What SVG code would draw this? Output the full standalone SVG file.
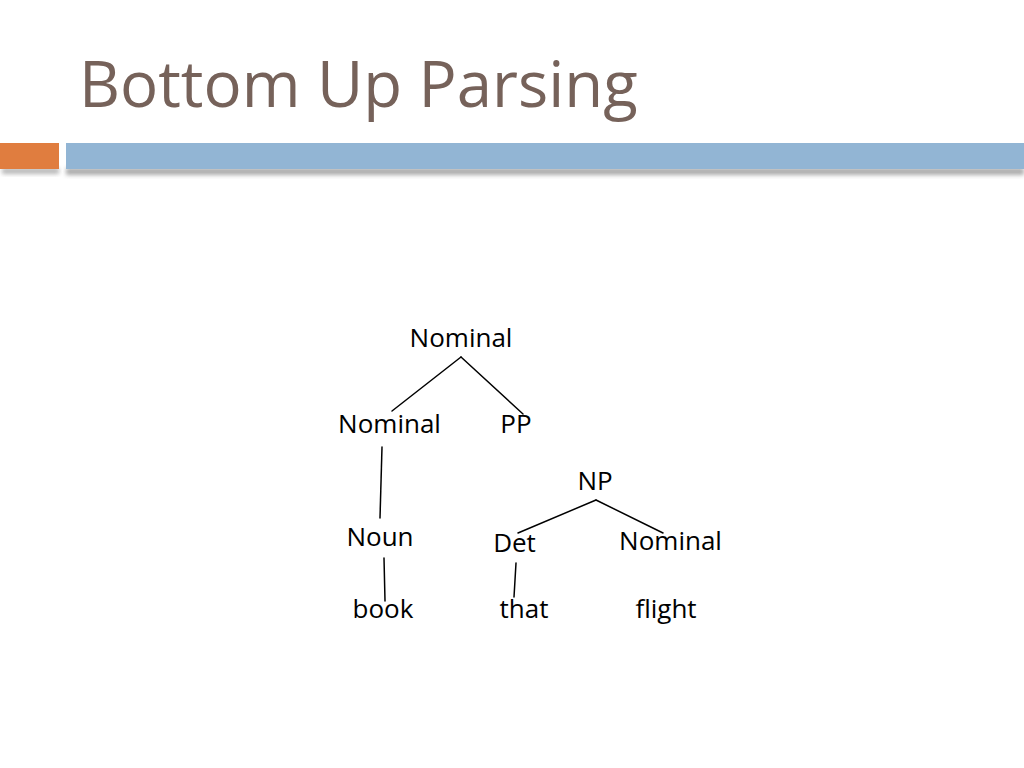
<svg xmlns="http://www.w3.org/2000/svg" width="1024" height="768" viewBox="0 0 1024 768">
<defs>
<style>
.t{font-family:"Open Sans","Noto Sans","DejaVu Sans",sans-serif;font-size:26px;fill:#000;}
.title{font-family:"Open Sans","Noto Sans","DejaVu Sans",sans-serif;font-size:63.5px;fill:#76625a;}
.e{stroke:#000;stroke-width:1.5;fill:none;stroke-linecap:round;}
</style>
<filter id="sh" x="-5%" y="-50%" width="110%" height="200%">
<feGaussianBlur stdDeviation="2"/>
</filter>
</defs>
<rect width="1024" height="768" fill="#fff"/>
<text class="title" x="79" y="107">Bottom Up Parsing</text>
<g id="header-bar">
<rect x="2" y="168" width="57" height="6" fill="#888" opacity="0.6" filter="url(#sh)"/>
<rect x="66" y="168" width="958" height="7" fill="#888" opacity="0.7" filter="url(#sh)"/>
<rect x="0" y="143" width="59" height="26" fill="#e07d3f"/>
<rect x="66" y="143" width="958" height="26" fill="#92b5d4"/>
</g>
<g id="connectors">
<line class="e" x1="461" y1="357" x2="392" y2="411"/>
<line class="e" x1="461" y1="357" x2="523" y2="414"/>
<line class="e" x1="382" y1="447" x2="380" y2="518"/>
<line class="e" x1="384" y1="558" x2="385" y2="601"/>
<line class="e" x1="596" y1="500" x2="518" y2="533"/>
<line class="e" x1="596" y1="500" x2="663" y2="533"/>
<line class="e" x1="516" y1="563" x2="514" y2="597"/>
</g>
<g id="n-nominal-top"><text class="t" x="461" y="347" text-anchor="middle">Nominal</text></g>
<g id="n-nominal-left"><text class="t" x="389.5" y="433" text-anchor="middle">Nominal</text></g>
<g id="n-pp"><text class="t" x="516" y="433" text-anchor="middle">PP</text></g>
<g id="n-np"><text class="t" x="595" y="490" text-anchor="middle">NP</text></g>
<g id="n-noun"><text class="t" x="380" y="546" text-anchor="middle">Noun</text></g>
<g id="n-det"><text class="t" x="514.5" y="552" text-anchor="middle">Det</text></g>
<g id="n-nominal-right"><text class="t" x="670.5" y="550" text-anchor="middle">Nominal</text></g>
<g id="n-book"><text class="t" x="383" y="618" text-anchor="middle">book</text></g>
<g id="n-that"><text class="t" x="524" y="618" text-anchor="middle">that</text></g>
<g id="n-flight"><text class="t" x="666" y="618" text-anchor="middle">flight</text></g>
</svg>
